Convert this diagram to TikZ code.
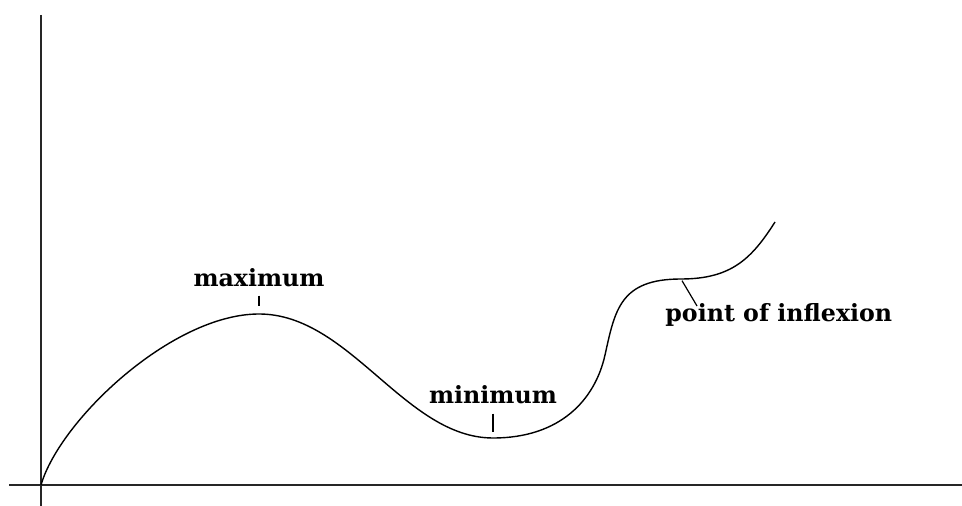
\documentclass[tikz,border=0pt]{standalone}
\usepackage{fontspec}
\setmainfont{DejaVu Serif}
\usetikzlibrary{positioning,calc}
\tikzset{
  axis/.style={draw=black!85, line width=0.9pt},
  graph/.style={draw=black, line width=0.7pt, line join=round},
  marker/.style={draw=black, line width=0.6pt},
  label/.style={inner sep=0pt, font=\fontsize{11.85}{14}\selectfont\bfseries}
}
\begin{document}
\begin{tikzpicture}[x=0.5pt, y=-0.5pt]
\useasboundingbox (0,0) rectangle (962,506);
\coordinate (origin) at (41,485);
\coordinate (maxpt) at (259,314);
\coordinate (minpt) at (493,438);
\coordinate (steep) at (605,355);
\coordinate (inflpt) at (681,279);
\coordinate (inflend) at (697,306);
\coordinate (top) at (775,222);
\draw[axis] (41,15) -- (41,506);
\draw[axis] (9,485) -- (962,485);
\draw[graph] (origin) .. controls (60,420) and (172,314) .. (maxpt)
  .. controls (350,314) and (405,438) .. (minpt)
  .. controls (560,438) and (595,400) .. (steep)
  .. controls (615,310) and (620,279) .. (inflpt)
  .. controls (732,279) and (752,258) .. (top);
\node[label, anchor=base] (maxlbl) at (259,287) {maximum};
\node[label, anchor=base] (minlbl) at (493,404) {minimum};
\node[label, anchor=base west] (infllbl) at (665,322) {point of inflexion};
\draw[marker, shorten <=4pt, shorten >=4pt] (maxlbl.south) -- (maxpt);
\draw[marker, shorten <=4.5pt, shorten >=3pt] (minlbl.south) -- (minpt);
\draw[marker, shorten <=1pt] (inflpt) -- (inflend);
\end{tikzpicture}
\end{document}
